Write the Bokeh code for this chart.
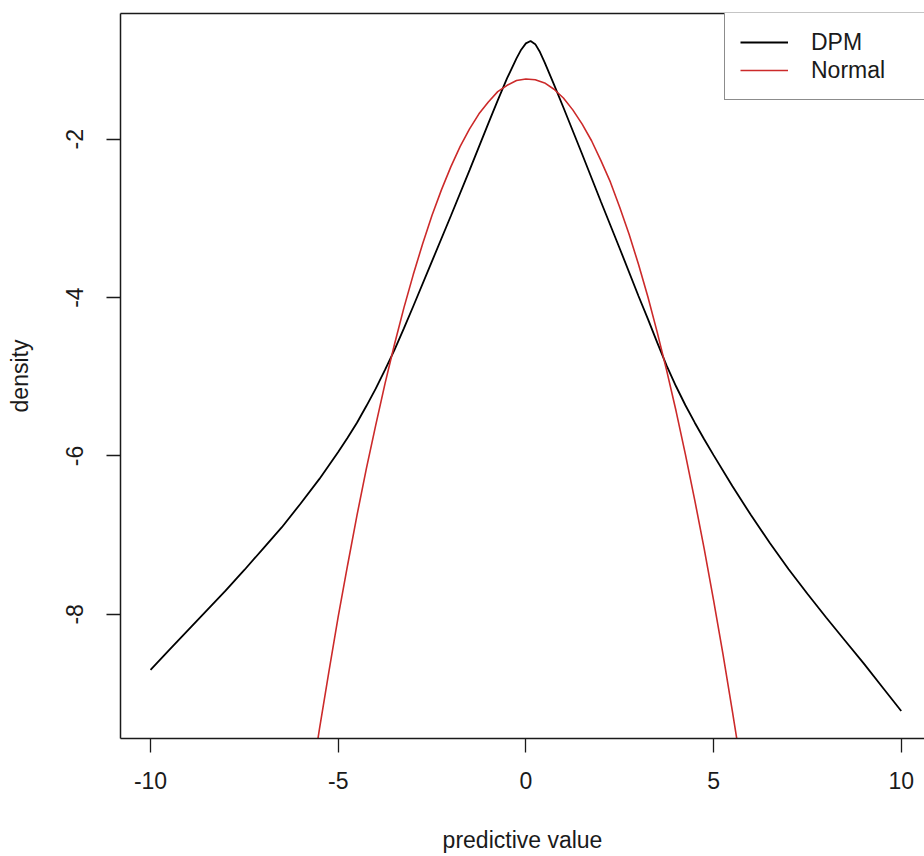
from bokeh.plotting import figure
from bokeh.models import Range1d, FixedTicker, LinearAxis, Legend, LegendItem
from bokeh.embed import file_html
from bokeh.resources import INLINE

# Log predictive density of the DPM model
dpm_x = [-10, -9.5, -9, -8.5, -8, -7.5, -7, -6.5, -6, -5.5, -5, -4.75, -4.5,
         -4.25, -4, -3.75, -3.5, -3.25, -3, -2.5, -2, -1.5, -1, -0.75, -0.5,
         -0.25, -0.125, 0, 0.125, 0.25, 0.375, 0.5, 0.75, 1, 1.5, 2, 2.5, 3,
         3.25, 3.5, 3.75, 4, 4.25, 4.5, 4.75, 5, 5.5, 6, 6.5, 7, 7.5, 8, 8.5,
         9, 9.5, 10]
dpm_y = [-8.70, -8.45, -8.20, -7.95, -7.70, -7.44, -7.17, -6.90, -6.60, -6.29,
         -5.95, -5.77, -5.58, -5.37, -5.15, -4.91, -4.66, -4.39, -4.11, -3.54,
         -2.97, -2.39, -1.80, -1.51, -1.23, -0.98, -0.87, -0.79, -0.76, -0.80,
         -0.90, -1.03, -1.31, -1.60, -2.19, -2.79, -3.38, -3.98, -4.27, -4.57,
         -4.86, -5.12, -5.36, -5.58, -5.79, -5.99, -6.38, -6.75, -7.10, -7.43,
         -7.74, -8.04, -8.33, -8.62, -8.92, -9.22]

# Log predictive density of the Normal model
normal_x = [-6, -5.75, -5.5, -5.25, -5, -4.75, -4.5, -4.25, -4, -3.75, -3.5,
            -3.25, -3, -2.75, -2.5, -2.25, -2, -1.75, -1.5, -1.25, -1, -0.75,
            -0.5, -0.25, 0, 0.25, 0.5, 0.75, 1, 1.25, 1.5, 1.75, 2, 2.25, 2.5,
            2.75, 3, 3.25, 3.5, 3.75, 4, 4.25, 4.5, 4.75, 5, 5.25, 5.5, 5.75, 6]
normal_y = [-11.00, -10.21, -9.45, -8.73, -8.03, -7.38, -6.75, -6.16, -5.61,
            -5.08, -4.59, -4.13, -3.71, -3.32, -2.96, -2.64, -2.35, -2.09,
            -1.87, -1.68, -1.53, -1.40, -1.32, -1.26, -1.24, -1.25, -1.29,
            -1.37, -1.48, -1.63, -1.81, -2.02, -2.27, -2.54, -2.86, -3.20,
            -3.58, -3.99, -4.44, -4.92, -5.43, -5.98, -6.56, -7.17, -7.82,
            -8.50, -9.22, -9.96, -10.74]

x_ticks = [-10, -5, 0, 5, 10]
y_ticks = [-8, -6, -4, -2]
series_names = ["DPM", "Normal"]

FONT = "Liberation Sans"
FS = "23px"
INK = "#1a1a1a"

p = figure(width=924, height=856, output_backend="svg", toolbar_location=None,
           x_range=Range1d(-10.8, 10.62), y_range=Range1d(-9.568, -0.413),
           min_border_left=120, min_border_right=0, min_border_top=13,
           min_border_bottom=118,
           x_axis_label="predictive value", y_axis_label="density")
p.grid.visible = False
p.outline_line_color = None
p.background_fill_color = "white"
p.border_fill_color = "white"

r_dpm = p.line(dpm_x, dpm_y, line_color="black", line_width=1.8)
r_norm = p.line(normal_x, normal_y, line_color="#cc2a2a", line_width=1.6)

for ax in list(p.xaxis) + list(p.yaxis):
    ax.axis_line_color = INK
    ax.axis_line_width = 1.5
    ax.major_tick_line_color = INK
    ax.major_tick_line_width = 1.3
    ax.major_tick_out = 14
    ax.major_tick_in = 0
    ax.minor_tick_line_color = None
    ax.major_label_text_font = FONT
    ax.major_label_text_font_size = FS
    ax.major_label_text_color = INK
    ax.axis_label_text_font = FONT
    ax.axis_label_text_font_size = FS
    ax.axis_label_text_font_style = "normal"
    ax.axis_label_text_color = INK

p.xaxis.ticker = FixedTicker(ticks=x_ticks)
p.xaxis.major_label_overrides = {t: str(t) for t in x_ticks}
p.xaxis.major_label_standoff = 19
p.xaxis.axis_label_standoff = 35

p.yaxis.ticker = FixedTicker(ticks=y_ticks)
p.yaxis.major_label_overrides = {t: str(t) for t in y_ticks}
p.yaxis.major_label_orientation = "vertical"
p.yaxis.major_label_standoff = 23
p.yaxis.axis_label_standoff = 31

# top edge of the plotting box
top = LinearAxis(ticker=FixedTicker(ticks=[]), major_tick_out=0, major_tick_in=0,
                 minor_tick_out=0, major_label_text_font_size="0px",
                 major_label_standoff=0, axis_line_color=INK, axis_line_width=1.5)
p.add_layout(top, "above")

legend = Legend(
    items=[LegendItem(label=series_names[0], renderers=[r_dpm]),
           LegendItem(label=series_names[1], renderers=[r_norm])],
    location=(604, 638), padding=15, spacing=0, margin=0,
    glyph_width=48, glyph_height=28, label_height=28, label_width=110,
    label_standoff=23, label_text_font=FONT, label_text_font_size=FS,
    label_text_color=INK, border_line_color=INK, border_line_width=1.5,
    background_fill_color="white", background_fill_alpha=1.0)
p.add_layout(legend)

open("out.html", "w").write(file_html(p, INLINE))
